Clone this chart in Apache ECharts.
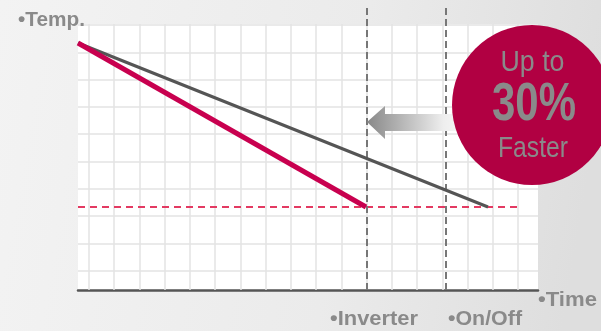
<!DOCTYPE html>
<html>
<head>
<meta charset="utf-8">
<script src="https://cdn.jsdelivr.net/npm/echarts@6/dist/echarts.min.js"></script>
<style>
  html, body { margin: 0; padding: 0; }
  #chart { width: 601px; height: 331px; }
</style>
</head>
<body>
<div id="chart"></div>
<script>
// time / temperature in arbitrary units
const startTemp = 24.7
const targetTemp = 8.3
const inverterTime = [0, 28.8]
const inverterTemp = [startTemp, targetTemp]
const onOffTime = [0, 41]
const onOffTemp = [startTemp, targetTemp]
const targetLineEnd = 44.2
const markerTimes = [28.9, 36.8]
const markerTop = 28.3
const markerLabels = ['•Inverter', '•On/Off']
const badgeLines = ['Up to', '30%', 'Faster']

const FONT = "'Liberation Sans', Arial, sans-serif"
const labelGray = '#8a8a8a'

const zip = (xs, ys) => xs.map((x, i) => [x, ys[i]])

const chart = echarts.init(document.getElementById('chart'), null, { renderer: 'canvas' })

const hidden = { axisLine: { show: false }, axisTick: { show: false }, axisLabel: { show: false }, splitLine: { show: false } }
const gridLine = { show: true, lineStyle: { color: '#e3e3e3', width: 1.5 } }

const option = {
  animation: false,
  backgroundColor: {
    type: 'linear', x: 0, y: 0, x2: 1, y2: 0.3,
    colorStops: [
      { offset: 0, color: '#f3f3f3' },
      { offset: 0.6, color: '#ebebeb' },
      { offset: 1, color: '#dedede' },
    ],
  },
  grid: [
    // white plot area
    { left: 78, top: 24, width: 460, height: 266, show: true, backgroundColor: '#ffffff', borderWidth: 0 },
    // vertical grid lines
    { left: 89, top: 24, width: 429, height: 266 },
    // horizontal grid lines
    { left: 78, top: 25, width: 460, height: 245.7 },
  ],
  xAxis: [
    {
      type: 'value', gridIndex: 0, min: 0, max: 46,
      axisLine: { show: true, lineStyle: { color: '#555', width: 2.5 } },
      axisTick: { show: false }, axisLabel: { show: false }, splitLine: { show: false },
    },
    { type: 'value', gridIndex: 1, min: 0, max: 17, interval: 1, z: 1, ...hidden, splitLine: gridLine },
    { type: 'value', gridIndex: 2, min: 0, max: 1, ...hidden },
  ],
  yAxis: [
    { type: 'value', gridIndex: 0, min: 0, max: 26.6, ...hidden },
    { type: 'value', gridIndex: 1, min: 0, max: 1, ...hidden },
    { type: 'value', gridIndex: 2, min: 0, max: 9, interval: 1, z: 1, ...hidden, splitLine: gridLine },
  ],
  series: [
    {
      name: 'target', type: 'line', z: 3, symbol: 'none', clip: false,
      data: [[0, targetTemp], [targetLineEnd, targetTemp]],
      lineStyle: { color: '#e33a62', width: 2, type: [7, 5] },
    },
    ...markerTimes.map((t, i) => ({
      name: markerLabels[i], type: 'line', z: 3, symbol: 'none', clip: false,
      data: [[t, 0], [t, markerTop]],
      lineStyle: { color: '#777', width: 2, type: [7, 4] },
    })),
    {
      name: 'On/Off', type: 'line', z: 4, symbol: 'none',
      data: zip(onOffTime, onOffTemp),
      lineStyle: { color: '#555', width: 3 },
    },
    {
      name: 'Inverter', type: 'line', z: 5, symbol: 'none',
      data: zip(inverterTime, inverterTemp),
      lineStyle: { color: '#c8004f', width: 5 },
    },
  ],
}

chart.setOption(option)

// annotations placed from the scales
const px = (t, v) => chart.convertToPixel({ gridIndex: 0 }, [t, v])
const [invX] = px(markerTimes[0], 0)
const [offX] = px(markerTimes[1], 0)
const [axisEndX, axisY] = px(46, 0)
const arrowY = px(0, 16.8)[1]

// the original uses a condensed face, so squeeze text to the width it had
const ctx = document.createElement('canvas').getContext('2d')
const text = (str, x, y, size, weight, align, width) => {
  const font = `${weight} ${size}px ${FONT}`
  ctx.font = font
  const sx = width / ctx.measureText(str).width
  return {
    type: 'text', x, y, z: 20, scaleX: sx,
    style: { text: str, fill: labelGray, font, align, verticalAlign: 'middle' },
  }
}

chart.setOption({
  graphic: [
    {
      type: 'polygon', z: 10,
      shape: { points: [
        [invX, arrowY], [invX + 18, arrowY - 16], [invX + 18, arrowY - 8], [invX + 90, arrowY - 8],
        [invX + 90, arrowY + 9], [invX + 18, arrowY + 9], [invX + 18, arrowY + 17],
      ] },
      style: {
        fill: { type: 'linear', x: 0, y: 0, x2: 1, y2: 0, colorStops: [
          { offset: 0, color: '#888' }, { offset: 0.85, color: '#eeeeee' }, { offset: 1, color: '#f4f4f4' },
        ] },
      },
    },
    { type: 'circle', z: 15, shape: { cx: 532, cy: 105, r: 80 }, style: { fill: '#b10042' } },
    text(badgeLines[0], 532.5, 63, 29, 'normal', 'center', 64),
    text(badgeLines[1], 534, 105, 53, 'bold', 'center', 84),
    text(badgeLines[2], 533, 149, 30, 'normal', 'center', 70),
    text('•Temp.', 18, 20, 21, 'bold', 'left', 67),
    text('•Time', axisEndX, axisY + 10, 21, 'bold', 'left', 59),
    text(markerLabels[0], invX - 37, axisY + 29, 21, 'bold', 'left', 88),
    text(markerLabels[1], offX + 2, axisY + 29, 21, 'bold', 'left', 74),
  ],
})
</script>
</body>
</html>
